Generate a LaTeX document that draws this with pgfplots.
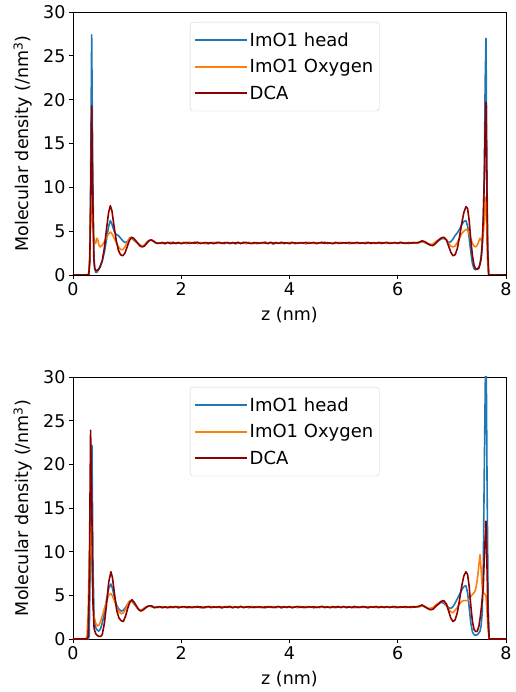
\documentclass[border=0pt]{standalone}
\usepackage{fontspec}
\setmainfont{DejaVu Sans}
\usepackage{pgfplots}
\usepackage{pgfplotstable}
\pgfplotsset{compat=1.18}
\definecolor{mblue}{HTML}{1F77B4}
\definecolor{morange}{HTML}{FF7F0E}
\definecolor{mdred}{HTML}{8B0000}

% columns: z, ImO1 head, ImO1 Oxygen, DCA  (top panel)
\pgfplotstableread{
z h o d
0.00 0 0 0
0.26 0 0 0
0.29 0 0.2 0
0.31 1.5 2.5 1.5
0.325 10 6.5 8
0.345 27.4 8.6 19.3
0.365 12 5.5 9
0.385 2.5 4.2 1.8
0.40 0.8 3.8 0.8
0.42 0.3 3.6 0.5
0.44 0.3 4.2 0.5
0.46 0.5 4.0 0.6
0.48 0.7 3.4 0.7
0.50 1.0 3.2 0.9
0.54 1.6 3.4 1.6
0.58 2.6 3.8 3.1
0.62 4.1 4.3 5.3
0.66 5.6 4.7 7.2
0.69 6.2 4.9 7.9
0.72 5.8 4.7 7.3
0.76 5.0 4.2 5.5
0.80 4.6 3.7 3.9
0.84 4.5 3.2 2.8
0.88 4.2 2.9 2.3
0.92 3.9 2.9 2.2
0.96 3.7 3.2 2.5
1.00 3.8 3.7 3.2
1.04 4.1 4.2 3.9
1.08 4.2 4.3 4.3
1.12 4.0 4.1 4.2
1.16 3.8 3.8 3.9
1.20 3.6 3.6 3.6
1.24 3.4 3.4 3.3
1.28 3.3 3.3 3.2
1.32 3.4 3.4 3.3
1.36 3.7 3.7 3.6
1.40 3.9 3.9 3.9
1.44 4.0 4.0 4.0
1.48 3.9 3.9 3.9
1.52 3.7 3.7 3.7
1.56 3.6 3.62 3.62
1.60 3.62 3.66 3.64
1.65 3.71 3.57 3.69
1.70 3.55 3.70 3.61
1.75 3.68 3.63 3.72
1.80 3.60 3.74 3.58
1.85 3.74 3.59 3.67
1.90 3.58 3.66 3.62
1.95 3.66 3.72 3.70
2.00 3.63 3.61 3.57
2.05 3.72 3.68 3.66
2.10 3.57 3.60 3.71
2.15 3.69 3.75 3.60
2.20 3.61 3.62 3.68
2.25 3.75 3.69 3.63
2.30 3.59 3.58 3.74
2.35 3.67 3.71 3.59
2.40 3.64 3.64 3.65
2.45 3.70 3.56 3.70
2.50 3.56 3.70 3.62
2.55 3.68 3.66 3.69
2.60 3.62 3.73 3.58
2.65 3.73 3.60 3.67
2.70 3.60 3.67 3.73
2.75 3.66 3.62 3.61
2.80 3.58 3.71 3.66
2.85 3.71 3.64 3.70
2.90 3.63 3.58 3.60
2.95 3.69 3.69 3.68
3.00 3.55 3.63 3.64
3.05 3.67 3.74 3.71
3.10 3.61 3.61 3.59
3.15 3.74 3.68 3.67
3.20 3.59 3.59 3.72
3.25 3.66 3.72 3.63
3.30 3.64 3.65 3.58
3.35 3.70 3.57 3.69
3.40 3.57 3.70 3.65
3.45 3.68 3.66 3.61
3.50 3.62 3.61 3.70
3.55 3.75 3.76 3.66
3.60 3.60 3.63 3.59
3.65 3.69 3.68 3.73
3.70 3.53 3.60 3.62
3.75 3.66 3.71 3.68
3.80 3.63 3.64 3.60
3.85 3.72 3.59 3.71
3.90 3.58 3.69 3.64
3.95 3.67 3.62 3.67
4.00 3.61 3.73 3.58
4.05 3.73 3.66 3.70
4.10 3.59 3.58 3.65
4.15 3.68 3.70 3.61
4.20 3.64 3.63 3.69
4.25 3.70 3.67 3.63
4.30 3.56 3.60 3.72
4.35 3.69 3.72 3.60
4.40 3.62 3.65 3.67
4.45 3.71 3.58 3.70
4.50 3.60 3.69 3.59
4.55 3.66 3.63 3.66
4.60 3.63 3.74 3.71
4.65 3.74 3.61 3.62
4.70 3.58 3.68 3.68
4.75 3.67 3.64 3.64
4.80 3.61 3.70 3.57
4.85 3.72 3.59 3.70
4.90 3.59 3.66 3.66
4.95 3.68 3.72 3.61
5.00 3.64 3.62 3.69
5.05 3.70 3.68 3.63
5.10 3.57 3.60 3.72
5.15 3.69 3.71 3.60
5.20 3.62 3.65 3.66
5.25 3.73 3.58 3.70
5.30 3.60 3.70 3.62
5.35 3.66 3.64 3.67
5.40 3.63 3.73 3.59
5.45 3.71 3.61 3.71
5.50 3.58 3.67 3.64
5.55 3.67 3.62 3.68
5.60 3.62 3.69 3.61
5.65 3.72 3.60 3.70
5.70 3.59 3.72 3.63
5.75 3.68 3.65 3.67
5.80 3.64 3.59 3.72
5.85 3.70 3.70 3.60
5.90 3.61 3.63 3.66
5.95 3.69 3.68 3.69
6.00 3.60 3.61 3.62
6.05 3.73 3.74 3.70
6.10 3.62 3.66 3.65
6.15 3.67 3.60 3.61
6.20 3.59 3.69 3.68
6.25 3.70 3.64 3.63
6.30 3.64 3.71 3.70
6.35 3.68 3.62 3.66
6.40 3.70 3.72 3.75
6.45 3.8 3.8 3.9
6.50 3.7 3.7 3.8
6.55 3.55 3.6 3.6
6.60 3.45 3.5 3.4
6.65 3.5 3.5 3.35
6.70 3.7 3.8 3.6
6.75 3.9 4.0 3.95
6.80 4.1 4.2 4.2
6.85 4.2 4.3 4.3
6.90 4.0 4.0 4.0
6.94 3.7 3.6 3.3
6.98 3.8 3.3 2.6
7.02 4.1 3.2 2.2
7.06 4.5 3.3 2.3
7.10 4.8 3.7 3.0
7.14 5.2 4.2 4.3
7.18 5.7 4.7 5.8
7.22 6.1 5.0 7.1
7.26 6.2 5.2 7.8
7.29 5.6 5.1 7.6
7.32 4.2 4.7 6.2
7.35 2.6 4.1 4.0
7.38 1.3 3.6 2.2
7.41 0.7 3.3 1.1
7.44 0.6 3.2 0.7
7.47 0.7 3.4 0.65
7.50 0.9 3.9 0.8
7.52 1.2 4.2 1.3
7.54 1.8 4.0 2.0
7.56 3.0 3.8 3.5
7.58 6.0 4.5 6.5
7.60 12 6.5 11
7.615 22 8.3 17
7.63 27.0 8.9 19.7
7.645 14 5 11
7.66 4 1.5 3
7.68 0 0 0
8.00 0 0 0
}\toptable

% columns: z, ImO1 head, ImO1 Oxygen, DCA  (bottom panel)
\pgfplotstableread{
z h o d
0.00 0 0 0
0.24 0 0 0
0.26 0 0.5 0
0.28 0 3 0.3
0.30 0.3 9 6
0.325 12 13.2 23.9
0.35 22.2 8 14
0.37 8 4 4
0.39 2.5 2.5 1.2
0.42 1.3 1.8 0.6
0.45 1.0 1.5 0.4
0.48 0.9 1.6 0.3
0.51 1.2 2.0 0.3
0.54 1.8 2.6 0.5
0.58 3.0 3.5 1.8
0.62 4.5 4.3 4.0
0.66 5.8 5.0 6.5
0.70 6.3 5.2 7.7
0.73 5.8 4.9 7.0
0.77 4.6 4.3 5.0
0.81 3.8 3.6 3.2
0.85 3.4 3.1 2.4
0.89 3.2 2.9 2.1
0.93 3.3 3.0 2.0
0.97 3.6 3.4 2.6
1.01 4.0 4.0 3.5
1.05 4.3 4.4 4.2
1.09 4.3 4.4 4.5
1.13 4.0 4.1 4.2
1.17 3.7 3.7 3.8
1.21 3.4 3.4 3.4
1.25 3.3 3.3 3.2
1.29 3.4 3.4 3.3
1.33 3.6 3.6 3.5
1.37 3.7 3.7 3.7
1.41 3.8 3.8 3.8
1.45 3.7 3.8 3.8
1.50 3.6 3.6 3.6
1.55 3.65 3.6 3.65
1.60 3.66 3.62 3.70
1.65 3.58 3.71 3.61
1.70 3.69 3.60 3.67
1.75 3.61 3.67 3.58
1.80 3.72 3.58 3.69
1.85 3.60 3.70 3.63
1.90 3.67 3.63 3.72
1.95 3.57 3.74 3.60
2.00 3.70 3.61 3.66
2.05 3.63 3.69 3.71
2.10 3.71 3.57 3.62
2.15 3.59 3.66 3.68
2.20 3.68 3.72 3.59
2.25 3.62 3.60 3.70
2.30 3.74 3.68 3.64
2.35 3.58 3.63 3.69
2.40 3.67 3.71 3.57
2.45 3.61 3.59 3.66
2.50 3.72 3.67 3.72
2.55 3.59 3.73 3.61
2.60 3.66 3.62 3.68
2.65 3.63 3.68 3.63
2.70 3.70 3.58 3.70
2.75 3.56 3.70 3.59
2.80 3.68 3.64 3.67
2.85 3.62 3.75 3.64
2.90 3.73 3.61 3.71
2.95 3.60 3.66 3.58
3.00 3.69 3.70 3.68
3.05 3.58 3.59 3.62
3.10 3.71 3.68 3.73
3.15 3.62 3.62 3.60
3.20 3.67 3.71 3.66
3.25 3.61 3.57 3.70
3.30 3.74 3.69 3.61
3.35 3.59 3.64 3.67
3.40 3.66 3.72 3.63
3.45 3.63 3.60 3.71
3.50 3.70 3.67 3.58
3.55 3.57 3.63 3.68
3.60 3.68 3.74 3.64
3.65 3.62 3.61 3.70
3.70 3.71 3.68 3.60
3.75 3.60 3.59 3.67
3.80 3.69 3.70 3.72
3.85 3.56 3.65 3.61
3.90 3.67 3.72 3.69
3.95 3.63 3.60 3.63
4.00 3.72 3.67 3.70
4.05 3.58 3.63 3.59
4.10 3.68 3.71 3.66
4.15 3.61 3.58 3.72
4.20 3.73 3.69 3.62
4.25 3.59 3.64 3.68
4.30 3.66 3.73 3.60
4.35 3.64 3.61 3.71
4.40 3.70 3.68 3.64
4.45 3.57 3.62 3.69
4.50 3.69 3.70 3.61
4.55 3.62 3.59 3.67
4.60 3.72 3.66 3.73
4.65 3.60 3.72 3.62
4.70 3.67 3.63 3.68
4.75 3.63 3.69 3.58
4.80 3.71 3.60 3.70
4.85 3.58 3.67 3.64
4.90 3.68 3.74 3.69
4.95 3.61 3.62 3.61
5.00 3.70 3.68 3.72
5.05 3.59 3.60 3.63
5.10 3.66 3.71 3.67
5.15 3.64 3.65 3.60
5.20 3.73 3.58 3.70
5.25 3.60 3.69 3.65
5.30 3.68 3.63 3.61
5.35 3.62 3.72 3.71
5.40 3.71 3.61 3.66
5.45 3.57 3.67 3.59
5.50 3.67 3.64 3.69
5.55 3.63 3.70 3.64
5.60 3.70 3.59 3.72
5.65 3.60 3.68 3.61
5.70 3.69 3.73 3.68
5.75 3.61 3.62 3.63
5.80 3.66 3.67 3.70
5.85 3.64 3.60 3.62
5.90 3.72 3.71 3.67
5.95 3.59 3.65 3.71
6.00 3.68 3.69 3.60
6.05 3.62 3.61 3.68
6.10 3.70 3.72 3.64
6.15 3.60 3.64 3.70
6.20 3.67 3.68 3.62
6.25 3.63 3.60 3.69
6.30 3.69 3.73 3.65
6.35 3.64 3.66 3.70
6.40 3.72 3.71 3.76
6.45 3.8 3.8 3.9
6.50 3.7 3.7 3.7
6.55 3.5 3.55 3.5
6.60 3.45 3.5 3.35
6.65 3.55 3.6 3.4
6.70 3.8 3.9 3.7
6.75 4.0 4.1 4.0
6.80 4.2 4.3 4.3
6.85 4.1 4.3 4.4
6.90 3.8 3.9 4.0
6.94 3.6 3.4 3.2
6.98 3.5 3.1 2.4
7.02 3.7 3.0 2.0
7.06 4.1 3.3 2.2
7.10 4.6 3.6 3.0
7.14 5.1 4.0 4.4
7.18 5.6 4.3 6.0
7.22 6.0 4.4 7.2
7.26 6.1 4.4 7.7
7.29 5.3 4.4 7.4
7.32 3.6 4.6 6.0
7.35 1.8 4.9 3.8
7.38 0.8 5.1 2.0
7.41 0.5 5.3 1.1
7.44 0.4 5.7 0.85
7.47 0.5 6.8 0.9
7.50 0.7 8.5 1.5
7.52 0.9 9.65 2.3
7.54 1.5 8.0 3.3
7.56 3 6.0 4.5
7.58 8 5.3 6
7.60 20 5.2 9.5
7.63 36 5.0 13.5
7.65 18 3 8
7.67 4 1 2
7.69 0 0 0
8.00 0 0 0
}\bottable

\pgfplotsset{
  mystyle/.style={
    scale only axis,
    width=433bp, height=262bp,
    xmin=0, xmax=8, ymin=0, ymax=30,
    xtick={0,2,4,6,8}, ytick={0,5,10,15,20,25,30},
    xtick pos=left, ytick pos=left,
    tick align=outside,
    major tick length=4bp,
    axis line style={line width=0.8bp},
    every tick/.style={line width=0.8bp, black},
    /pgf/number format/assume math mode=true,
    tick label style={font=\fontsize{17.5bp}{21bp}\selectfont},
    xlabel={z (nm)},
    ylabel={Molecular density (/nm\textsuperscript{3})},
    every axis x label/.style={at={(axis description cs:0.5,0)}, yshift=-40bp, anchor=center, font=\fontsize{17.5bp}{21bp}\selectfont},
    every axis y label/.style={at={(axis description cs:0,0.5)}, xshift=-50bp, rotate=90, anchor=center, font=\fontsize{17.5bp}{21bp}\selectfont},
    legend style={at={(0.27,0.962)}, anchor=north west,
      font=\fontsize{18bp}{21.5bp}\selectfont,
      draw=black!18, rounded corners=3bp, fill=white,
      inner xsep=4bp, inner ysep=8.5bp, row sep=7.5bp},
    legend cell align=left,
    legend image code/.code={\draw[#1, line width=1.6bp] (0bp,0bp) -- (38bp,0bp); \path (0bp,0bp) -- (52bp,0bp);},
    every axis plot/.append style={line width=1.6bp, line join=round},
  }
}

\begin{document}
\begin{tikzpicture}
\useasboundingbox (-73bp,-53bp) rectangle (443bp,639bp);
\begin{axis}[mystyle, at={(0bp,364bp)}, anchor=south west, height=263bp]
\addplot[mblue] table[x=z,y=h] {\toptable};
\addlegendentry{ImO1 head}
\addplot[morange] table[x=z,y=o] {\toptable};
\addlegendentry{ImO1 Oxygen}
\addplot[mdred] table[x=z,y=d] {\toptable};
\addlegendentry{DCA}
\end{axis}
\begin{axis}[mystyle, at={(0bp,0bp)}, anchor=south west]
\addplot[mblue] table[x=z,y=h] {\bottable};
\addlegendentry{ImO1 head}
\addplot[morange] table[x=z,y=o] {\bottable};
\addlegendentry{ImO1 Oxygen}
\addplot[mdred] table[x=z,y=d] {\bottable};
\addlegendentry{DCA}
\end{axis}
\end{tikzpicture}
\end{document}
